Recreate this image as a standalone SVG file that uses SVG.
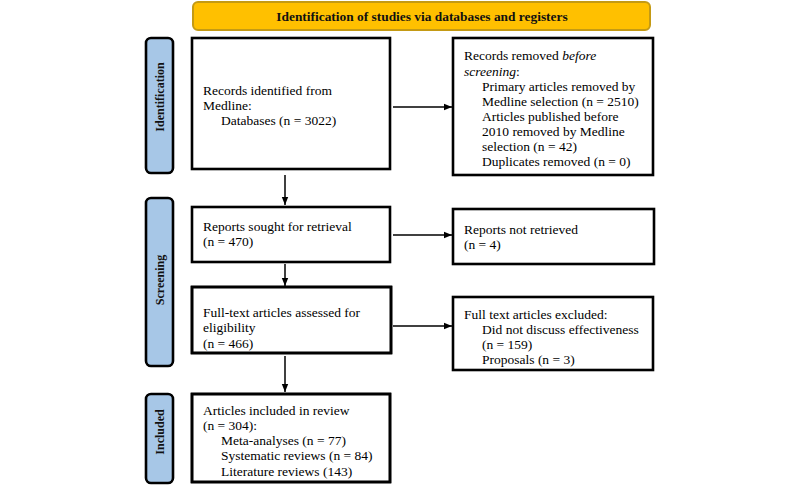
<svg xmlns="http://www.w3.org/2000/svg" width="800" height="486" viewBox="0 0 800 486">
<defs>
<marker id="ah" viewBox="0 0 10 10" refX="10" refY="5" markerWidth="8" markerHeight="8" markerUnits="userSpaceOnUse" orient="auto">
<path d="M0,1 L10,5 L0,9 Z" fill="#000"/>
</marker>
<style>
.box{fill:#fff;stroke:#000;stroke-width:2.6}
.brd{fill:none;stroke:#000;stroke-width:2.6}
.side{fill:#a7c7e7;stroke:#000;stroke-width:2.6}
.t{font-family:"Liberation Serif","Times New Roman",serif;font-size:13.5px;fill:#000}
.st{font-family:"Liberation Serif","Times New Roman",serif;font-size:12px;font-weight:bold;fill:#111;text-anchor:middle}
.hd{font-family:"Liberation Serif","Times New Roman",serif;font-size:13.4px;font-weight:bold;fill:#111;text-anchor:middle}
.c{stroke:#000;stroke-width:1.5;fill:none;marker-end:url(#ah)}
</style>
</defs>
<rect width="800" height="486" fill="#fff"/>
<g id="header">
<rect x="193" y="2" width="457" height="28" rx="5" fill="#ffc000" stroke="#c49a14" stroke-width="2"/>
<text class="hd" x="422" y="21">Identification of studies via databases and registers</text>
</g>
<g id="lbl-identification">
<rect class="side" x="146" y="38" width="27" height="135" rx="5"/>
<text class="st" transform="translate(163.5,97) rotate(-90)">Identification</text>
</g>
<g id="lbl-screening">
<rect class="side" x="146" y="198" width="27" height="168" rx="5"/>
<text class="st" transform="translate(163.5,280) rotate(-90)">Screening</text>
</g>
<g id="lbl-included">
<rect class="side" x="146" y="394" width="27" height="89" rx="5"/>
<text class="st" transform="translate(163.5,432) rotate(-90)">Included</text>
</g>
<g id="n-records">
<rect class="box" x="192" y="38" width="198" height="131"/>
<text class="t" x="203" y="95">Records identified from</text>
<text class="t" x="203" y="110">Medline:</text>
<text class="t" x="221" y="125">Databases (n = 3022)</text>
</g>
<g id="n-removed">
<rect class="box" x="453" y="38" width="200" height="137"/>
<text class="t" x="464" y="60">Records removed <tspan font-style="italic">before</tspan></text>
<text class="t" x="464" y="76"><tspan font-style="italic">screening</tspan>:</text>
<text class="t" x="482" y="91">Primary articles removed by</text>
<text class="t" x="482" y="106">Medline selection (n = 2510)</text>
<text class="t" x="482" y="121">Articles published before</text>
<text class="t" x="482" y="136">2010 removed by Medline</text>
<text class="t" x="482" y="151">selection (n = 42)</text>
<text class="t" x="482" y="166">Duplicates removed (n = 0)</text>
</g>
<g id="n-sought">
<rect class="box" x="192" y="207" width="198" height="55"/>
<text class="t" x="203" y="231">Reports sought for retrieval</text>
<text class="t" x="203" y="246">(n = 470)</text>
</g>
<g id="n-notretrieved">
<rect class="box" x="453" y="209" width="201" height="55"/>
<text class="t" x="464" y="234">Reports not retrieved</text>
<text class="t" x="464" y="249">(n = 4)</text>
</g>
<g id="n-fulltext">
<rect class="box" x="192" y="287" width="199" height="66"/>
<text class="t" x="203" y="317">Full-text articles assessed for</text>
<text class="t" x="203" y="332">eligibility</text>
<text class="t" x="203" y="348">(n = 466)</text>
<rect class="brd" x="192" y="287" width="199" height="66"/>
</g>
<g id="n-excluded">
<rect class="box" x="453" y="297" width="200" height="73"/>
<text class="t" x="464" y="319">Full text articles excluded:</text>
<text class="t" x="482" y="334">Did not discuss effectiveness</text>
<text class="t" x="482" y="349">(n = 159)</text>
<text class="t" x="482" y="364">Proposals (n = 3)</text>
</g>
<g id="n-included">
<rect class="box" x="192" y="394" width="198" height="88"/>
<text class="t" x="203" y="415">Articles included in review</text>
<text class="t" x="203" y="430">(n = 304):</text>
<text class="t" x="221" y="445">Meta-analyses (n = 77)</text>
<text class="t" x="221" y="460">Systematic reviews (n = 84)</text>
<text class="t" x="221" y="476">Literature reviews (143)</text>
<rect class="brd" x="192" y="394" width="198" height="88"/>
</g>
<g id="connectors">
<line class="c" x1="393" y1="107" x2="452" y2="107"/>
<line class="c" x1="285" y1="175" x2="285" y2="205"/>
<line class="c" x1="393" y1="235" x2="452" y2="235"/>
<line class="c" x1="285" y1="264" x2="285" y2="286"/>
<line class="c" x1="393" y1="326" x2="452" y2="326"/>
<line class="c" x1="285" y1="356" x2="285" y2="392"/>
</g>
</svg>
